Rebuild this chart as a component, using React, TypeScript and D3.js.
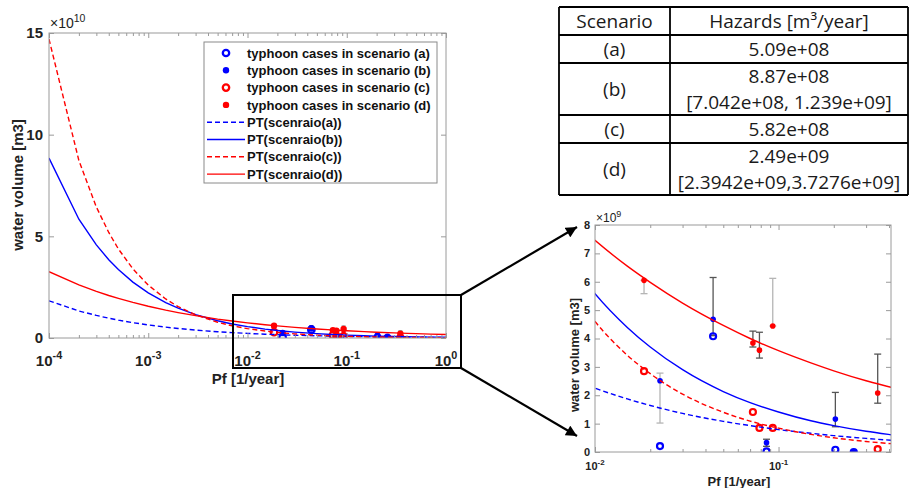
import React, { useEffect, useRef } from 'react';
import * as d3 from 'd3';

// Pf [1/year] grid on which the fitted PT curves were read
const pfGrid = [1e-4, 2e-4, 3e-4, 4e-4, 5e-4, 7e-4, 1e-3, 1.5e-3, 2e-3, 3e-3, 5e-3, 7e-3,
  0.01, 0.015, 0.02, 0.03, 0.05, 0.07, 0.1, 0.15, 0.2, 0.3, 0.41, 0.5, 0.7, 1.0];

// PT curves, water volume in 1e9 m3
const ptScenarioA = [18.3, 13.3, 11.1, 9.74, 8.79, 7.55, 6.41, 5.33, 4.68, 3.89, 3.08, 2.64,
  2.25, 1.87, 1.64, 1.36, 1.08, 0.93, 0.79, 0.66, 0.576, 0.479, 0.415, 0.38, 0.326, 0.277];
const ptScenarioB = [88.5, 58.4, 45.8, 38.5, 33.7, 27.5, 22.2, 17.4, 14.7, 11.5, 8.46, 6.9,
  5.58, 4.39, 3.7, 2.9, 2.13, 1.74, 1.41, 1.1, 0.93, 0.73, 0.61, 0.54, 0.44, 0.35];
const ptScenarioC = [147, 87.3, 64.4, 51.9, 43.8, 34.0, 26.0, 19.2, 15.4, 11.4, 7.75, 6.0,
  4.6, 3.41, 2.76, 2.04, 1.4, 1.09, 0.84, 0.62, 0.5, 0.37, 0.294, 0.25, 0.2, 0.15];
const ptScenarioD = [32.6, 26.1, 22.9, 20.9, 19.5, 17.5, 15.6, 13.7, 12.5, 11.0, 9.31, 8.36,
  7.46, 6.55, 5.98, 5.25, 4.46, 4.0, 3.57, 3.14, 2.86, 2.51, 2.28, 2.13, 1.92, 1.71];

// typhoon cases (Pf, volume in 1e9 m3)
const casePfAB = [0.0226, 0.044, 0.086, 0.204, 0.257];
const caseVolA = [0.21, 4.08, 0.02, 0.08, 0.0];
const caseVolB = [2.51, 4.68, 0.33, 1.16, 0.0];
const casePfCD = [0.0185, 0.0725, 0.0787, 0.093, 0.347];
const caseVolC = [2.85, 1.41, 0.85, 0.85, 0.1];
const caseVolD = [6.05, 3.84, 3.59, 4.44, 2.08];

// error bars: [Pf, low, high] in 1e9 m3
const errBarsDark = [[0.044, 4.1, 6.15], [0.0725, 3.7, 4.26], [0.0787, 3.31, 4.22],
  [0.086, 0.2, 0.45], [0.204, 0.89, 2.1], [0.347, 1.72, 3.45]];
const errBarsLight = [[0.0185, 5.58, 6.05], [0.0226, 1.02, 2.78], [0.093, 4.44, 6.12]];

const legendLabels = [
  'typhoon cases in scenario (a)', 'typhoon cases in scenario (b)',
  'typhoon cases in scenario (c)', 'typhoon cases in scenario (d)',
  'PT(scenraio(a))', 'PT(scenraio(b))', 'PT(scenraio(c))', 'PT(scenraio(d))',
];

const tableHeader = ['Scenario', 'Hazards [m\u00b3/year]'];
const tableScenarios = ['(a)', '(b)', '(c)', '(d)'];
const tableHazards = ['5.09e+08', '8.87e+08', '5.82e+08', '2.49e+09'];
const tableIntervals = ['', '[7.042e+08, 1.239e+09]', '', '[2.3942e+09,3.7276e+09]'];

const BLUE = '#0000ff';
const RED = '#ff0000';
const AXIS = '#9a9a9a';
const FONT = '"Liberation Sans", Arial, sans-serif';

function drawPanel(svg, id, x, y, div, o) {
  const [x0, x1] = x.range();
  const [y0, y1] = y.range();
  const g = svg.append('g');

  g.append('clipPath').attr('id', id).append('rect')
    .attr('x', x0).attr('y', y1).attr('width', x1 - x0).attr('height', y0 - y1);

  const plot = g.append('g').attr('clip-path', `url(#${id})`);

  // error bars
  const bars = (list, color) => {
    list.forEach(([pf, lo, hi]) => {
      const cx = x(pf);
      plot.append('line').attr('x1', cx).attr('x2', cx).attr('y1', y(lo / div)).attr('y2', y(hi / div))
        .attr('stroke', color).attr('stroke-width', o.barW);
      [lo, hi].forEach(v => {
        plot.append('line').attr('x1', cx - o.cap).attr('x2', cx + o.cap)
          .attr('y1', y(v / div)).attr('y2', y(v / div))
          .attr('stroke', color).attr('stroke-width', o.barW);
      });
    });
  };
  bars(errBarsLight, '#b5b5b5');
  bars(errBarsDark, '#555');

  // typhoon cases
  const pts = (pfs, vals, color, open) => {
    pfs.forEach((pf, i) => {
      plot.append('circle').attr('cx', x(pf)).attr('cy', y(vals[i] / div))
        .attr('r', open ? o.rOpen : o.rFill)
        .attr('fill', open ? 'none' : color)
        .attr('stroke', open ? color : 'none')
        .attr('stroke-width', open ? o.ring : 0);
    });
  };
  pts(casePfAB, caseVolA, BLUE, true);
  pts(casePfAB, caseVolB, BLUE, false);
  pts(casePfCD, caseVolC, RED, true);
  pts(casePfCD, caseVolD, RED, false);

  // PT curves
  const line = d3.line()
    .x((_, i) => x(pfGrid[i]))
    .y(d => y(d / div))
    .curve(o.curve);
  [[ptScenarioA, BLUE, true], [ptScenarioB, BLUE, false],
   [ptScenarioC, RED, true], [ptScenarioD, RED, false]].forEach(([vals, color, dashed]) => {
    plot.append('path').attr('d', line(vals)).attr('fill', 'none')
      .attr('stroke', color).attr('stroke-width', 1.4)
      .attr('stroke-dasharray', dashed ? '5,3' : null);
  });

  // frame and ticks
  g.append('rect').attr('x', x0).attr('y', y1).attr('width', x1 - x0).attr('height', y0 - y1)
    .attr('fill', 'none').attr('stroke', AXIS).attr('stroke-width', 1);

  const majorX = x.ticks().filter(v => Math.abs(Math.log10(v) - Math.round(Math.log10(v))) < 1e-9);
  const minorX = x.ticks().filter(v => !majorX.includes(v));
  const styleAxis = a => {
    a.select('.domain').remove();
    a.selectAll('line').attr('stroke', AXIS);
  };
  [[minorX, 3], [majorX, 5]].forEach(([vals, len]) => {
    g.append('g').attr('transform', `translate(0,${y0})`)
      .call(d3.axisBottom(x).tickValues(vals).tickSize(-len).tickFormat(() => '')).call(styleAxis);
    g.append('g').attr('transform', `translate(0,${y1})`)
      .call(d3.axisTop(x).tickValues(vals).tickSize(-len).tickFormat(() => '')).call(styleAxis);
  });
  g.append('g').attr('transform', `translate(${x0},0)`)
    .call(d3.axisLeft(y).tickValues(o.yTicks).tickSize(-5).tickFormat(() => '')).call(styleAxis);
  g.append('g').attr('transform', `translate(${x1},0)`)
    .call(d3.axisRight(y).tickValues(o.yTicks).tickSize(-5).tickFormat(() => '')).call(styleAxis);

  // tick labels
  o.yTicks.forEach(v => {
    g.append('text').attr('x', x0 - o.labGap).attr('y', y(v)).attr('dy', '0.36em')
      .attr('text-anchor', 'end').attr('font-family', FONT).attr('font-weight', 'bold')
      .attr('font-size', o.fs).attr('fill', '#222').text(v);
  });
  majorX.forEach(v => {
    const t = g.append('text').attr('x', x(v)).attr('y', o.xLabY)
      .attr('text-anchor', 'middle').attr('font-family', FONT).attr('font-weight', 'bold')
      .attr('font-size', o.fs).attr('fill', '#222');
    t.append('tspan').text('10');
    t.append('tspan').attr('dy', -o.fs * 0.45).attr('font-size', o.fs * 0.72).text(Math.round(Math.log10(v)));
  });

  // axis titles
  g.append('text').attr('x', o.xTitle[0]).attr('y', o.xTitle[1]).attr('text-anchor', 'middle')
    .attr('font-family', FONT).attr('font-weight', 'bold').attr('font-size', o.fsTitle)
    .attr('fill', '#222').text('Pf [1/year]');
  g.append('text').attr('transform', `translate(${o.yTitle[0]},${o.yTitle[1]}) rotate(-90)`)
    .attr('text-anchor', 'middle').attr('font-family', FONT).attr('font-weight', 'bold')
    .attr('font-size', o.fsTitle).attr('fill', '#222').text('water volume [m3]');

  // exponent
  const e = g.append('text').attr('x', x0 + 1).attr('y', o.expY)
    .attr('font-family', FONT).attr('font-size', o.fsExp).attr('fill', '#222');
  e.append('tspan').text('\u00d710');
  e.append('tspan').attr('dy', -o.fsExp * 0.45).attr('font-size', o.fsExp * 0.75).text(o.exp);
  return g;
}

export default function App() {
  const ref = useRef(null);

  useEffect(() => {
    const svg = d3.select(ref.current);
    svg.selectAll('*').remove();

    svg.append('defs').append('marker').attr('id', 'arrow')
      .attr('viewBox', '0 0 10 10').attr('refX', 10).attr('refY', 5)
      .attr('markerWidth', 12).attr('markerHeight', 11).attr('markerUnits', 'userSpaceOnUse')
      .attr('orient', 'auto')
      .append('path').attr('d', 'M0,0L10,5L0,10Z').attr('fill', '#000');

    // ---- main plot ----
    const xL = d3.scaleLog().domain([1e-4, 1]).range([49, 446]);
    const yL = d3.scaleLinear().domain([0, 15]).range([338, 33]);
    drawPanel(svg, 'clipL', xL, yL, 10, {
      curve: d3.curveLinear, barW: 1, cap: 2, rOpen: 3.3, rFill: 3.2, ring: 2.2,
      yTicks: [0, 5, 10, 15], fs: 15, labGap: 6, xLabY: 366, fsTitle: 15,
      xTitle: [248, 384], yTitle: [23, 185], fsExp: 14, expY: 28, exp: '10',
    });

    // legend
    const lg = svg.append('g');
    lg.append('rect').attr('x', 204).attr('y', 42).attr('width', 233).attr('height', 141)
      .attr('fill', '#fff').attr('stroke', '#8a8a8a').attr('stroke-width', 1);
    const legendStyles = [
      [BLUE, 'open'], [BLUE, 'dot'], [RED, 'open'], [RED, 'dot'],
      [BLUE, 'dash'], [BLUE, 'solid'], [RED, 'dash'], [RED, 'solid'],
    ];
    legendLabels.forEach((label, i) => {
      const cy = 53 + i * 17.3;
      const [color, kind] = legendStyles[i];
      if (kind === 'open') {
        lg.append('circle').attr('cx', 226).attr('cy', cy).attr('r', 3.2)
          .attr('fill', 'none').attr('stroke', color).attr('stroke-width', 2.3);
      } else if (kind === 'dot') {
        lg.append('circle').attr('cx', 226).attr('cy', cy).attr('r', 3.2).attr('fill', color);
      } else {
        lg.append('line').attr('x1', 207).attr('x2', 245).attr('y1', cy).attr('y2', cy)
          .attr('stroke', color).attr('stroke-width', 1.4)
          .attr('stroke-dasharray', kind === 'dash' ? '5,3' : null);
      }
      lg.append('text').attr('x', 247).attr('y', cy).attr('dy', '0.36em')
        .attr('font-family', FONT).attr('font-weight', 'bold').attr('font-size', 13)
        .attr('fill', '#111').text(label);
    });

    // zoom box and arrows
    svg.append('rect').attr('x', 233).attr('y', 295).attr('width', 228).attr('height', 73)
      .attr('fill', 'none').attr('stroke', '#000').attr('stroke-width', 2);
    [[295, 227], [368, 436]].forEach(([ys, ye]) => {
      svg.append('line').attr('x1', 461).attr('y1', ys).attr('x2', 577).attr('y2', ye)
        .attr('stroke', '#000').attr('stroke-width', 2.2).attr('marker-end', 'url(#arrow)');
    });

    // ---- zoomed plot ----
    const xR = d3.scaleLog().domain([0.01, 0.41]).range([595, 891]);
    const yR = d3.scaleLinear().domain([0, 8]).range([452, 225]);
    drawPanel(svg, 'clipR', xR, yR, 1, {
      curve: d3.curveMonotoneX, barW: 1.3, cap: 3.5, rOpen: 3, rFill: 2.8, ring: 2.2,
      yTicks: d3.range(0, 9), fs: 11, labGap: 5, xLabY: 470, fsTitle: 13,
      xTitle: [739, 486], yTitle: [579, 355], fsExp: 12, expY: 222, exp: '9',
    });

    // ---- table ----
    const tb = svg.append('g');
    const colX = [559, 670, 908];
    const rows = [{ left: tableHeader[0], right: [tableHeader[1]] }].concat(
      tableScenarios.map((s, i) => ({
        left: s,
        right: tableIntervals[i] ? [tableHazards[i], tableIntervals[i]] : [tableHazards[i]],
      })));
    let top = 7;
    const lineYs = [top];
    rows.forEach(r => {
      const h = r.right.length === 2 ? 52 : 28;
      const txt = (xx, yy, s) => tb.append('text').attr('x', xx).attr('y', yy).attr('dy', '0.36em')
        .attr('text-anchor', 'middle').attr('font-family', '"Open Sans", sans-serif')
        .attr('font-size', 19).attr('fill', '#1a1a1a').text(s);
      txt((colX[0] + colX[1]) / 2, top + h / 2, r.left);
      if (r.right.length === 2) {
        txt((colX[1] + colX[2]) / 2, top + 13.5, r.right[0]);
        txt((colX[1] + colX[2]) / 2, top + 39, r.right[1]);
      } else {
        txt((colX[1] + colX[2]) / 2, top + h / 2, r.right[0]);
      }
      top += h;
      lineYs.push(top);
    });
    lineYs.forEach(yy => {
      tb.append('line').attr('x1', colX[0]).attr('x2', colX[2]).attr('y1', yy).attr('y2', yy)
        .attr('stroke', '#000').attr('stroke-width', 1.8);
    });
    colX.forEach(xx => {
      tb.append('line').attr('x1', xx).attr('x2', xx).attr('y1', lineYs[0]).attr('y2', top)
        .attr('stroke', '#000').attr('stroke-width', 1.8);
    });
  }, []);

  return (
    <svg ref={ref} width={913} height={488}
      style={{ position: 'absolute', left: 0, top: 0, background: '#fff' }} />
  );
}
